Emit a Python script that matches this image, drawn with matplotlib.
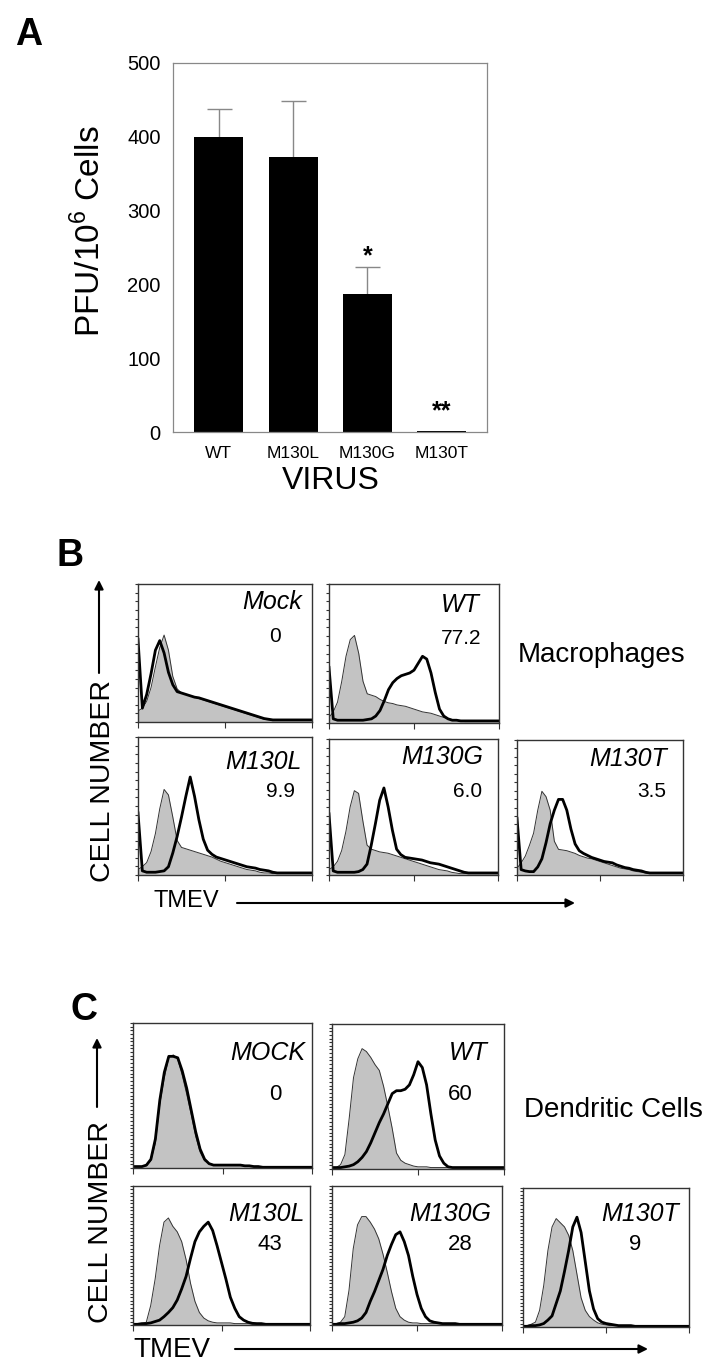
import numpy as np
import matplotlib
matplotlib.use('Agg')
import matplotlib.pyplot as plt

plt.rcParams['font.family'] = ['Liberation Sans', 'DejaVu Sans']
plt.rcParams['mathtext.fontset'] = 'custom'
plt.rcParams['mathtext.rm'] = 'Liberation Sans'

W, H = 726, 1372

# ---- panel A : plaque assay
viruses = ['WT', 'M130L', 'M130G', 'M130T']
pfu = [400, 373, 187, 1]
pfu_err = [38, 76, 37, 0]
signif = ['', '', '*', '**']

# ---- flow histograms, heights as fraction of box, 41 channels (log TMEV)
channels = np.logspace(0, 4, 41)

mac_names = ['Mock', 'WT', 'M130L', 'M130G', 'M130T']
mac_pct = ['0', '77.2', '9.9', '6.0', '3.5']
mac_mock_ctrl = [0.08, 0.10, 0.15, 0.25, 0.40, 0.54, 0.63, 0.52, 0.33, 0.24,
                 0.21, 0.20, 0.19, 0.18, 0.17, 0.16, 0.15, 0.14, 0.13, 0.12,
                 0.11, 0.10, 0.09, 0.08, 0.07, 0.06, 0.05, 0.04, 0.03, 0.02,
                 0.015] + [0.01] * 10
mac_mock_inf = [0.60, 0.10, 0.20, 0.35, 0.52, 0.59, 0.50, 0.36, 0.27, 0.22,
                0.21, 0.20, 0.19, 0.18, 0.175, 0.165, 0.155, 0.145, 0.135, 0.125,
                0.115, 0.105, 0.095, 0.085, 0.075, 0.065, 0.055, 0.045, 0.035, 0.025,
                0.02] + [0.015] * 10
mac_wt_ctrl = [0.04, 0.08, 0.15, 0.30, 0.48, 0.60, 0.63, 0.50, 0.30, 0.21,
               0.20, 0.19, 0.17, 0.155, 0.145, 0.14, 0.13, 0.125, 0.12, 0.11,
               0.10, 0.09, 0.08, 0.075, 0.07, 0.06, 0.05, 0.04, 0.03, 0.025,
               0.02, 0.015] + [0.01] * 9
mac_wt_inf = [0.40, 0.03, 0.02, 0.02, 0.02, 0.02, 0.02, 0.02, 0.02, 0.025,
              0.03, 0.05, 0.09, 0.16, 0.24, 0.29, 0.32, 0.34, 0.35, 0.36,
              0.38, 0.43, 0.48, 0.46, 0.36, 0.22, 0.10, 0.05, 0.03, 0.02,
              0.02] + [0.015] * 10
mac_l_ctrl = [0.04, 0.06, 0.09, 0.17, 0.30, 0.48, 0.62, 0.58, 0.42, 0.25,
              0.20, 0.19, 0.18, 0.17, 0.16, 0.15, 0.14, 0.13, 0.115, 0.10,
              0.09, 0.08, 0.07, 0.06, 0.05, 0.04, 0.035, 0.03, 0.02, 0.015,
              0.015] + [0.01] * 10
mac_l_inf = [0.45, 0.03, 0.02, 0.02, 0.02, 0.025, 0.03, 0.06, 0.16, 0.28,
             0.42, 0.57, 0.71, 0.57, 0.40, 0.26, 0.18, 0.15, 0.13, 0.12,
             0.11, 0.10, 0.09, 0.08, 0.07, 0.06, 0.055, 0.05, 0.04, 0.035,
             0.03, 0.02] + [0.015] * 9
mac_g_ctrl = [0.04, 0.06, 0.10, 0.18, 0.32, 0.50, 0.62, 0.60, 0.40, 0.22,
              0.19, 0.18, 0.17, 0.165, 0.16, 0.15, 0.14, 0.13, 0.12, 0.11,
              0.10, 0.09, 0.08, 0.07, 0.06, 0.05, 0.04, 0.035, 0.03, 0.02,
              0.015] + [0.01] * 10
mac_g_inf = [0.45, 0.03, 0.02, 0.02, 0.02, 0.02, 0.02, 0.025, 0.04, 0.08,
             0.22, 0.38, 0.55, 0.64, 0.50, 0.33, 0.19, 0.15, 0.13, 0.125,
             0.12, 0.115, 0.11, 0.10, 0.09, 0.085, 0.08, 0.07, 0.06, 0.05,
             0.04, 0.03, 0.02] + [0.015] * 8
mac_t_ctrl = [0.05, 0.09, 0.14, 0.22, 0.31, 0.48, 0.62, 0.58, 0.48, 0.25,
              0.19, 0.185, 0.18, 0.17, 0.16, 0.145, 0.135, 0.125, 0.12, 0.11,
              0.10, 0.09, 0.08, 0.07, 0.06, 0.05, 0.045, 0.04, 0.03, 0.025,
              0.02, 0.015] + [0.01] * 9
mac_t_inf = [0.42, 0.04, 0.03, 0.025, 0.025, 0.06, 0.12, 0.24, 0.38, 0.48,
             0.56, 0.56, 0.48, 0.34, 0.23, 0.18, 0.16, 0.145, 0.13, 0.12,
             0.11, 0.10, 0.095, 0.09, 0.075, 0.065, 0.055, 0.05, 0.04, 0.035,
             0.03, 0.02] + [0.015] * 9

dc_names = ['MOCK', 'WT', 'M130L', 'M130G', 'M130T']
dc_pct = ['0', '60', '43', '28', '9']
dc_mock_ctrl = [0.01, 0.01, 0.01, 0.015, 0.05, 0.17, 0.44, 0.62, 0.76, 0.78,
                0.75, 0.64, 0.51, 0.37, 0.22, 0.11, 0.05, 0.03, 0.02, 0.02,
                0.02, 0.02, 0.02, 0.02, 0.02, 0.015, 0.015, 0.01, 0.01, 0.005] + [0.005] * 11
dc_mock_inf = [0.01, 0.01, 0.01, 0.02, 0.06, 0.20, 0.47, 0.66, 0.77, 0.77,
               0.76, 0.67, 0.55, 0.40, 0.25, 0.13, 0.06, 0.03, 0.02, 0.02,
               0.02, 0.02, 0.02, 0.02, 0.02, 0.015, 0.015, 0.01, 0.01, 0.005] + [0.005] * 11
dc_wt_ctrl = [0.01, 0.01, 0.03, 0.10, 0.35, 0.63, 0.76, 0.83, 0.81, 0.77,
              0.72, 0.68, 0.57, 0.43, 0.28, 0.11, 0.06, 0.04, 0.03, 0.02,
              0.015, 0.015, 0.015] + [0.01] * 18
dc_wt_inf = [0.01, 0.01, 0.01, 0.015, 0.02, 0.03, 0.05, 0.08, 0.12, 0.18,
             0.25, 0.32, 0.38, 0.45, 0.52, 0.54, 0.54, 0.55, 0.58, 0.65,
             0.74, 0.70, 0.58, 0.38, 0.20, 0.09, 0.04, 0.015, 0.01, 0.01] + [0.01] * 11
dc_l_ctrl = [0.005, 0.005, 0.01, 0.02, 0.14, 0.33, 0.57, 0.74, 0.77, 0.71,
             0.67, 0.60, 0.47, 0.30, 0.17, 0.09, 0.05, 0.03, 0.02, 0.015,
             0.015, 0.015, 0.015, 0.01, 0.01, 0.01, 0.01] + [0.005] * 14
dc_l_inf = [0.005, 0.005, 0.01, 0.01, 0.015, 0.025, 0.035, 0.06, 0.09, 0.125,
            0.18, 0.26, 0.35, 0.48, 0.60, 0.67, 0.71, 0.74, 0.68, 0.57,
            0.45, 0.33, 0.20, 0.12, 0.06, 0.035, 0.02, 0.012, 0.01, 0.01] + [0.005] * 11
dc_g_ctrl = [0.005, 0.01, 0.02, 0.06, 0.25, 0.55, 0.72, 0.78, 0.78, 0.74,
             0.69, 0.62, 0.51, 0.38, 0.24, 0.12, 0.06, 0.035, 0.02, 0.015,
             0.015, 0.01, 0.01, 0.01, 0.01, 0.01] + [0.005] * 15
dc_g_inf = [0.005, 0.005, 0.01, 0.01, 0.015, 0.02, 0.03, 0.05, 0.09, 0.17,
            0.24, 0.32, 0.40, 0.50, 0.58, 0.65, 0.67, 0.60, 0.50, 0.35,
            0.22, 0.12, 0.06, 0.03, 0.02, 0.015, 0.01, 0.01, 0.01, 0.01] + [0.005] * 11
dc_t_ctrl = [0.005, 0.01, 0.02, 0.035, 0.12, 0.30, 0.55, 0.72, 0.78, 0.75,
             0.72, 0.66, 0.55, 0.38, 0.21, 0.12, 0.075, 0.05, 0.03, 0.02,
             0.015, 0.01, 0.01, 0.01, 0.01] + [0.005] * 16
dc_t_inf = [0.005, 0.005, 0.01, 0.01, 0.015, 0.025, 0.05, 0.08, 0.17, 0.26,
            0.40, 0.55, 0.72, 0.79, 0.68, 0.47, 0.26, 0.13, 0.06, 0.035,
            0.025, 0.02, 0.015, 0.01, 0.01, 0.01, 0.01] + [0.005] * 14

mac_ctrl = [mac_mock_ctrl, mac_wt_ctrl, mac_l_ctrl, mac_g_ctrl, mac_t_ctrl]
mac_inf = [mac_mock_inf, mac_wt_inf, mac_l_inf, mac_g_inf, mac_t_inf]
dc_ctrl = [dc_mock_ctrl, dc_wt_ctrl, dc_l_ctrl, dc_g_ctrl, dc_t_ctrl]
dc_inf = [dc_mock_inf, dc_wt_inf, dc_l_inf, dc_g_inf, dc_t_inf]

# layout (pixel boxes x0, y0, x1, y1)
mac_boxes = [(138, 584, 312, 722), (329, 584, 499, 723),
             (138, 737, 312, 875), (329, 739, 498, 875), (517, 740, 683, 875)]
dc_boxes = [(133, 1023, 312, 1168), (332, 1024, 504, 1169),
            (133, 1186, 310, 1325), (332, 1186, 502, 1325), (523, 1188, 689, 1327)]
mac_name_xy = [(302, 600), (480, 603), (302, 760), (483, 755), (667, 757)]
mac_pct_xy = [(281, 635), (481, 637), (295, 790), (482, 790), (666, 790)]
dc_name_xy = [(305, 1051), (488, 1051), (305, 1212), (491, 1212), (679, 1212)]
dc_pct_xy = [(281, 1092), (473, 1092), (282, 1242), (473, 1242), (641, 1242)]

fig = plt.figure(figsize=(W / 100, H / 100), dpi=100)


def px_axes(x0, y0, x1, y1):
    return fig.add_axes([x0 / W, 1 - y1 / H, (x1 - x0) / W, (y1 - y0) / H])


def base(yc, size):
    # baseline from visual cap centre (pixels)
    return yc + 0.716 * size * 100 / 72 / 2


# ---- A
ax = px_axes(173, 63, 487, 432)
xpos = np.arange(len(viruses))
eb = ax.errorbar(xpos[:3], pfu[:3], yerr=[[0, 0, 0], pfu_err[:3]], fmt='none',
                 ecolor='#888888', elinewidth=1, capsize=9, capthick=1, zorder=1)
eb[1][0].set_visible(False)  # no lower cap
ax.bar(xpos, pfu, width=0.66, color='black', zorder=2)
for i, s in enumerate(signif):
    if s:
        ax.text(i, pfu[i] + pfu_err[i] + (5 if s == '*' else 18), s,
                ha='center', va='baseline', fontsize=18, fontweight='bold')
ax.set_xlim(-0.615, 3.61)
ax.set_ylim(0, 500)
ax.set_yticks([0, 100, 200, 300, 400, 500])
ax.set_xticks(xpos)
ax.set_xticklabels(viruses)
ax.tick_params(axis='y', length=0, pad=9, labelsize=14.5)
ax.tick_params(axis='x', length=0, pad=10, labelsize=12.5)
for sp in ax.spines.values():
    sp.set_color('#888888')
    sp.set_linewidth(0.9)


# ---- histograms
def hist_panel(box, ctrl, inf, nticks):
    hx = px_axes(*box)
    hx.fill_between(channels, 0, ctrl, color='#c3c3c3', lw=0)
    hx.plot(channels, ctrl, color='#333333', lw=0.7)
    hx.plot(channels, inf, color='black', lw=2.0)
    hx.set_xscale('log')
    hx.set_xlim(1, 1e4)
    hx.set_ylim(0, 1)
    hx.set_yticks(np.linspace(0, 1, nticks))
    hx.tick_params(which='both', direction='out', labelbottom=False,
                   labelleft=False, width=0.8, color='#333333')
    hx.tick_params(which='major', length=4)
    hx.tick_params(which='minor', length=2)
    hx.tick_params(axis='y', length=2)
    for sp in hx.spines.values():
        sp.set_color('#333333')
        sp.set_linewidth(1.0)
    return hx


for box, c, k in zip(mac_boxes, mac_ctrl, mac_inf):
    hist_panel(box, c, k, 17)
for box, c, k in zip(dc_boxes, dc_ctrl, dc_inf):
    hist_panel(box, c, k, 41)

# ---- overlay in pixel coordinates for labels and arrows
ov = fig.add_axes([0, 0, 1, 1])
ov.set_xlim(0, W)
ov.set_ylim(H, 0)
ov.axis('off')
ov.set_zorder(5)

for (nx, ny), (px, py), n, p in zip(mac_name_xy, mac_pct_xy, mac_names, mac_pct):
    ov.text(nx, base(ny, 18), n, ha='right', va='baseline', fontsize=18, style='italic')
    ov.text(px, base(py, 15), p, ha='right', va='baseline', fontsize=15)
for (nx, ny), (px, py), n, p in zip(dc_name_xy, dc_pct_xy, dc_names, dc_pct):
    ov.text(nx, base(ny, 18), n, ha='right', va='baseline', fontsize=18, style='italic')
    ov.text(px, base(py, 16), p, ha='right', va='baseline', fontsize=16)

ov.text(29, base(32, 27), 'A', ha='center', va='baseline', fontsize=27, fontweight='bold')
ov.text(70, base(553, 27), 'B', ha='center', va='baseline', fontsize=27, fontweight='bold')
ov.text(84, base(1007, 27), 'C', ha='center', va='baseline', fontsize=27, fontweight='bold')

ov.text(100, 231, 'PFU/10$^6$ Cells', rotation=90, rotation_mode='anchor',
        ha='center', va='baseline', fontsize=24)
ov.text(331, base(478, 23), 'VIRUS', ha='center', va='baseline', fontsize=23)

ov.text(110, 781, 'CELL NUMBER', rotation=90, rotation_mode='anchor',
        ha='center', va='baseline', fontsize=20.5)
ov.text(108, 1222, 'CELL NUMBER', rotation=90, rotation_mode='anchor',
        ha='center', va='baseline', fontsize=20.5)
ov.text(518, base(652, 20), 'Macrophages', ha='left', va='baseline', fontsize=20)
ov.text(524, base(1107, 20), 'Dendritic Cells', ha='left', va='baseline', fontsize=20)
ov.text(153, base(899, 17), 'TMEV', ha='left', va='baseline', fontsize=17)
ov.text(133, base(1347, 20), 'TMEV', ha='left', va='baseline', fontsize=20)

arrow = dict(arrowstyle='-|>', color='black', lw=1.5, mutation_scale=13,
             shrinkA=0, shrinkB=0)
ov.annotate('', xy=(99, 580), xytext=(99, 673), arrowprops=arrow)
ov.annotate('', xy=(97, 1038), xytext=(97, 1107), arrowprops=arrow)
ov.annotate('', xy=(575, 903), xytext=(237, 903), arrowprops=arrow)
ov.annotate('', xy=(648, 1349), xytext=(235, 1349), arrowprops=arrow)

fig.savefig('out.png', dpi=100)
